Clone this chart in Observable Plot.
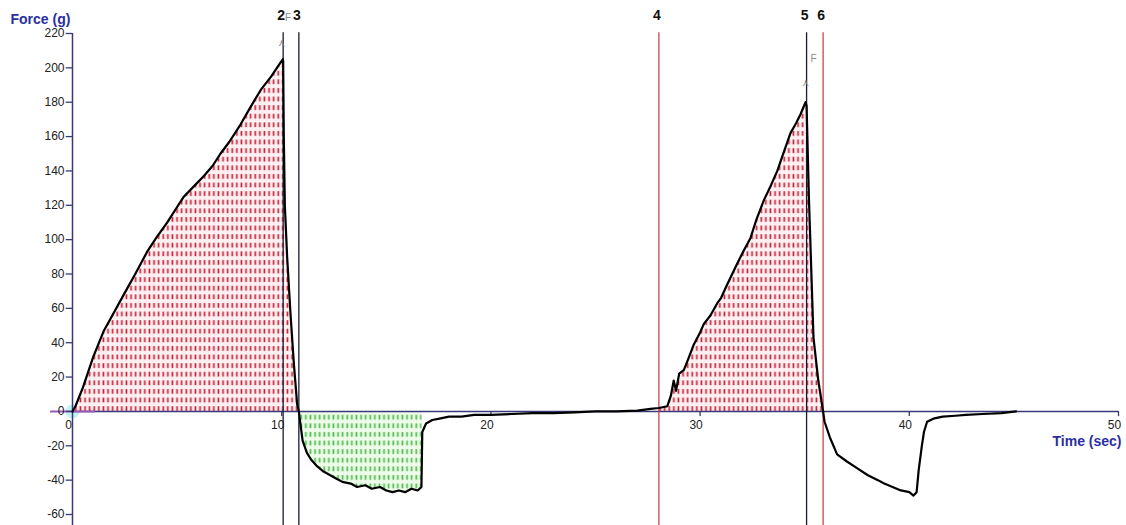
<!DOCTYPE html>
<html><head><meta charset="utf-8">
<script src="https://cdn.jsdelivr.net/npm/d3@7"></script>
<script src="https://cdn.jsdelivr.net/npm/@observablehq/plot@0.6"></script>
<style>
html,body{margin:0;padding:0;background:#fff;}
#chart{width:1126px;height:525px;}
svg{font-family:"Liberation Sans",Arial,sans-serif;}
</style></head><body><div id="chart"></div>
<script>
// ---- data ----
const time = [
  0.00,0.14,0.5,1.0,1.5,2.0,2.45,3.0,3.57,4.0,4.53,5.0,5.32,5.8,6.28,6.7,7.07,7.5,8.03,8.5,8.99,9.5,9.94,10.05,
  10.07,10.1,10.15,10.26,10.42,10.58,10.74,10.82,
  10.9,11.0,11.2,11.4,11.7,12.0,12.3,12.6,12.9,13.3,13.6,14.0,14.3,14.7,15.0,15.3,15.6,15.9,16.2,16.5,16.68,16.72,
  16.9,17.2,17.6,18.0,18.6,19.2,20.0,21.0,22.0,23.0,24.0,25.0,26.0,27.0,27.63,28.03,
  28.43,28.6,28.74,28.85,29.0,29.22,29.45,29.7,30.0,30.18,30.5,30.82,31.0,31.3,31.77,32.1,32.41,32.7,33.05,33.4,33.69,34.0,34.32,34.6,34.8,35.04,
  35.09,35.2,35.42,35.65,35.88,
  35.95,36.2,36.55,37.0,37.5,38.0,38.5,38.8,39.2,39.6,40.0,40.2,40.35,40.45,40.6,40.7,40.85,41.2,41.6,42.2,42.7,43.5,44.4,45.1
];
const force = [
  0,3,14,32,47,58,68,80,93,101,110,119,125,131,137,143,150,157,167,177,187,195,203,205,
  204,160,120,90,57,28,4,0,
  -8,-17,-24,-28,-32,-35,-37,-39,-41,-42,-44,-43,-45,-44,-46,-47,-46,-47,-45,-46,-44,-12,
  -7,-5,-4,-3,-3,-2,-2,-1.5,-1,-1,-0.5,0,0,0.5,1.5,2,
  3,9,18,12,22,24,31,39,46,51,56,63,66,74,86,94,101,112,123,132,140,151,162,168,173,180,
  178,125,43,18,0,
  -6,-15,-25,-29,-33,-37,-40,-42,-44,-46,-47,-49,-47,-34,-20,-12,-6,-4,-3,-2.5,-2,-1.5,-1,0
];
const markerLabels = ["2","3","4","5","6"];
const markerTimes  = [10.07,10.82,28.03,35.09,35.88];
const redMarkers   = ["4","6"];
const greenEnd = 16.72;
const xTicks = [0,10,20,30,40,50];
const yTicks = [-60,-40,-20,0,20,40,60,80,100,120,140,160,180,200,220];
const annoText = ["F","F","\u22CF","\u22CF"];
const annoT    = [10.3,35.42,9.99,35.04];
const annoF    = [229,205.5,214.5,191.5];
const yLabel = "Force (g)";
const xLabel = "Time (sec)";

// ---- derived tables ----
const rows = time.map((t,i)=>({t, f: force[i]}));
const inRange = (a,b) => rows.filter(d => d.t >= a && d.t <= b);
const markers = markerLabels.map((label,i)=>({label, t: markerTimes[i]}));
const annos = annoText.map((text,i)=>({text, t: annoT[i], f: annoF[i]}));

const navy = "#38387a";
const blue = "#2a2ea2";

const chart = Plot.plot({
  width: 1126, height: 525,
  marginLeft: 72, marginRight: 8, marginTop: 33, marginBottom: 11,
  x: {domain: [0, 50], axis: null},
  y: {domain: [-60, 220], axis: null},
  style: {fontFamily: '"Liberation Sans", Arial, sans-serif', fontSize: "12px", background: "#fff", overflow: "visible"},
  marks: [
    Plot.dot([0], {x: 0, y: 0, r: 7, fill: "#a8f0ec", fillOpacity: 0.7, stroke: "none"}),
    Plot.areaY(inRange(0, markerTimes[1]), {x: "t", y: "f", fill: "url(#hatchRed)", curve: "linear"}),
    Plot.areaY(inRange(markerTimes[2], markerTimes[4]), {x: "t", y: "f", fill: "url(#hatchRed)", curve: "linear"}),
    Plot.areaY(inRange(markerTimes[1], greenEnd), {x: "t", y: "f", fill: "url(#hatchGreen)", curve: "linear"}),
    Plot.ruleY([0], {x1: 0, x2: 50, stroke: navy, strokeWidth: 1.5}),
    Plot.ruleY([0], {x1: -1.05, x2: 1.1, stroke: "#9b5ab8", strokeWidth: 2}),
    Plot.ruleX([0], {y1: -66.5, y2: 220, stroke: navy, strokeWidth: 1.5}),
    Plot.ruleY(yTicks, {y: d => d, x1: -0.3, x2: 0, stroke: navy, strokeWidth: 1.3}),
    Plot.text(yTicks, {x: 0, y: d => d, text: d => String(d), textAnchor: "end", dx: -8, fill: "#222", fontSize: 12}),
    Plot.ruleX(xTicks.slice(1), {x: d => d, y1: 0, y2: -3, stroke: navy, strokeWidth: 1.3}),
    Plot.text(xTicks, {x: d => d, y: 0, text: d => String(d), dx: -4, dy: 14, fill: "#222", fontSize: 12}),
    Plot.ruleX(markers.filter(d => !redMarkers.includes(d.label)), {x: "t", y1: -66.5, y2: 220.5, stroke: "#1a1a2e", strokeWidth: 1.3}),
    Plot.ruleX(markers.filter(d => redMarkers.includes(d.label)), {x: "t", y1: -66.5, y2: 220.5, stroke: "#c23a3a", strokeWidth: 1.2}),
    Plot.line(rows, {x: "t", y: "f", stroke: "#000", strokeWidth: 2.2, strokeLinejoin: "round"}),
    Plot.text(markers, {x: "t", y: 220, text: "label", dx: -2, dy: -18, fontWeight: "bold", fontSize: 14, fill: "#111"}),
    Plot.text(annos, {x: "t", y: "f", text: "text", fill: "#8a8a8a", fontSize: 10}),
    Plot.text([yLabel], {frameAnchor: "top-left", text: d => d, textAnchor: "start", dx: -62, dy: -19, fontWeight: "bold", fontSize: 14, fill: blue}),
    Plot.text([xLabel], {x: 50, y: 0, text: d => d, textAnchor: "end", dx: 3, dy: 30, fontWeight: "bold", fontSize: 14, fill: blue})
  ]
});

// hatch patterns
const defs = d3.select(chart).insert("defs", ":first-child");
function hatch(id, bg, fg) {
  const p = defs.append("pattern").attr("id", id).attr("patternUnits", "userSpaceOnUse")
    .attr("width", 4.6).attr("height", 8.6);
  p.append("rect").attr("width", 4.6).attr("height", 8.6).attr("fill", bg);
  p.append("rect").attr("x", 1.4).attr("y", 2).attr("width", 1.7).attr("height", 4.8).attr("fill", fg);
}
hatch("hatchRed", "#fdf0f2", "#c8283e");
hatch("hatchGreen", "#effbea", "#4cbf4c");

document.getElementById("chart").appendChild(chart);
</script>
</body></html>
